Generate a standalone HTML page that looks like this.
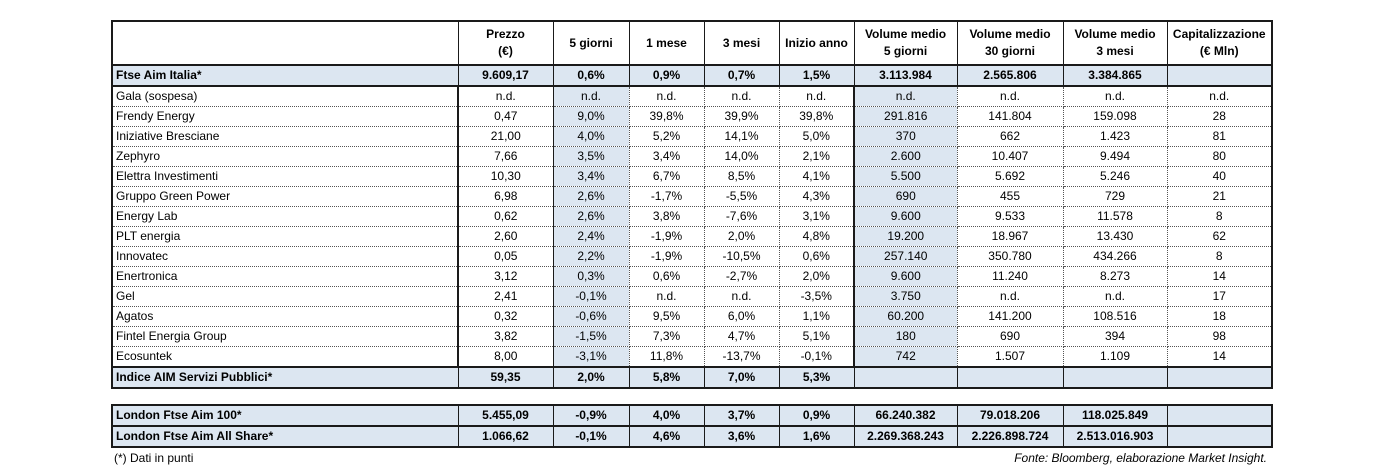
<!DOCTYPE html>
<html><head><meta charset="utf-8"><style>
body{margin:0;width:1384px;height:469px;background:#fff;position:relative;font-family:"Liberation Sans",sans-serif;font-size:12px;color:#000;overflow:hidden}
table{position:absolute;left:111px;border-collapse:collapse;table-layout:fixed;width:1160px}
td{padding:0;text-align:center;white-space:nowrap;overflow:hidden;height:19px;line-height:19px;border:1px dotted #555}
td.l{text-align:left;padding-left:3px}
.b td{font-weight:bold;background:#dce6f1;border-top:2px solid #1a1a1a;border-bottom:2px solid #1a1a1a;border-left:1px solid #1a1a1a;border-right:1px solid #1a1a1a}
.h td{font-weight:bold;background:#fff;height:42px;line-height:17px;border:1px solid #1a1a1a;border-bottom:2px solid #1a1a1a}
.d td.c1{background:#dce6f1}
.d td.c5{background:#dce6f1}
.d td:nth-child(1){border-right:2px solid #1a1a1a}
.d td:nth-child(2){border-right:1px solid #1a1a1a}
.d td:nth-child(6){border-right:2px solid #1a1a1a}
table{border:2px solid #1a1a1a}
.note{position:absolute;top:451px;font-size:12px}
</style></head><body>
<table id="t1" style="top:20px">
<colgroup><col style="width:346px"><col style="width:95px"><col style="width:76px"><col style="width:75px"><col style="width:75px"><col style="width:75px"><col style="width:103px"><col style="width:106px"><col style="width:104px"><col style="width:105px"></colgroup>
<tbody id="tb1">
<tr class="h"><td></td><td>Prezzo<br>(€)</td><td>5 giorni</td><td>1 mese</td><td>3 mesi</td><td>Inizio anno</td><td>Volume medio<br>5 giorni</td><td>Volume medio<br>30 giorni</td><td>Volume medio<br>3 mesi</td><td>Capitalizzazione<br>(€ Mln)</td></tr>
</tbody></table>
<table id="t2" style="top:404px">
<colgroup><col style="width:346px"><col style="width:95px"><col style="width:76px"><col style="width:75px"><col style="width:75px"><col style="width:75px"><col style="width:103px"><col style="width:106px"><col style="width:104px"><col style="width:105px"></colgroup>
<tbody id="tb2"></tbody></table>
<div class="note" style="left:114px">(*) Dati in punti</div>
<div class="note" style="right:117px;font-style:italic">Fonte: Bloomberg, elaborazione Market Insight.</div>
<script>
const top1=[["Ftse Aim Italia*","9.609,17","0,6%","0,9%","0,7%","1,5%","3.113.984","2.565.806","3.384.865",""]];
const rows=[
["Gala (sospesa)","n.d.","n.d.","n.d.","n.d.","n.d.","n.d.","n.d.","n.d.","n.d."],
["Frendy Energy","0,47","9,0%","39,8%","39,9%","39,8%","291.816","141.804","159.098","28"],
["Iniziative Bresciane","21,00","4,0%","5,2%","14,1%","5,0%","370","662","1.423","81"],
["Zephyro","7,66","3,5%","3,4%","14,0%","2,1%","2.600","10.407","9.494","80"],
["Elettra Investimenti","10,30","3,4%","6,7%","8,5%","4,1%","5.500","5.692","5.246","40"],
["Gruppo Green Power","6,98","2,6%","-1,7%","-5,5%","4,3%","690","455","729","21"],
["Energy Lab","0,62","2,6%","3,8%","-7,6%","3,1%","9.600","9.533","11.578","8"],
["PLT energia","2,60","2,4%","-1,9%","2,0%","4,8%","19.200","18.967","13.430","62"],
["Innovatec","0,05","2,2%","-1,9%","-10,5%","0,6%","257.140","350.780","434.266","8"],
["Enertronica","3,12","0,3%","0,6%","-2,7%","2,0%","9.600","11.240","8.273","14"],
["Gel","2,41","-0,1%","n.d.","n.d.","-3,5%","3.750","n.d.","n.d.","17"],
["Agatos","0,32","-0,6%","9,5%","6,0%","1,1%","60.200","141.200","108.516","18"],
["Fintel Energia Group","3,82","-1,5%","7,3%","4,7%","5,1%","180","690","394","98"],
["Ecosuntek","8,00","-3,1%","11,8%","-13,7%","-0,1%","742","1.507","1.109","14"]];
const bottom1=[["Indice AIM Servizi Pubblici*","59,35","2,0%","5,8%","7,0%","5,3%","","","",""]];
const london=[["London Ftse Aim 100*","5.455,09","-0,9%","4,0%","3,7%","0,9%","66.240.382","79.018.206","118.025.849",""],
["London Ftse Aim All Share*","1.066,62","-0,1%","4,6%","3,6%","1,6%","2.269.368.243","2.226.898.724","2.513.016.903",""]];
function add(tb,r,cls){
 const tr=document.createElement('tr');tr.className=cls;
 
 
 r.forEach((v,i)=>{const td=document.createElement('td');td.textContent=v;
  if(i==0)td.className='l';else if(i==2)td.className='c1';else if(i==6)td.className='c5';
  
  
  tr.appendChild(td);});
 tb.appendChild(tr);
}
const tb1=document.getElementById('tb1'),tb2=document.getElementById('tb2');
top1.forEach(r=>add(tb1,r,'b'));
rows.forEach(r=>add(tb1,r,'d'));
bottom1.forEach(r=>add(tb1,r,'b'));
london.forEach(r=>add(tb2,r,'b'));
document.querySelectorAll('#tb2 tr:first-child td').forEach(t=>t.style.borderTop='0');
</script>
</body></html>
